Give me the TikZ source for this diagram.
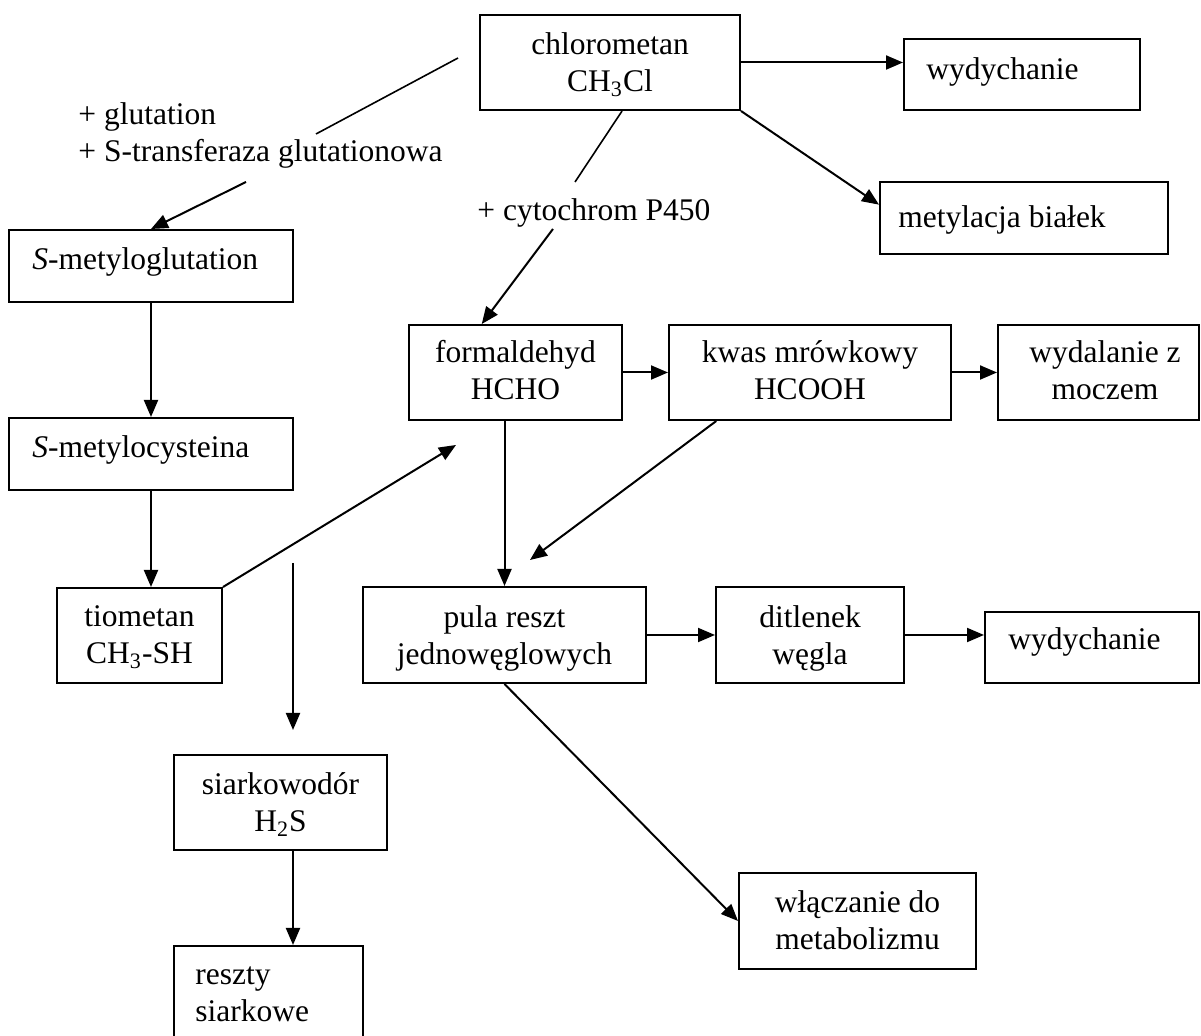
\documentclass[tikz,border=0pt]{standalone}
\usepackage{fontspec}
\setmainfont{Liberation Serif}
\usetikzlibrary{arrows.meta,calc}
\newcommand{\ltab}[1]{\begin{tabular}[t]{@{}l@{}}#1\end{tabular}}
\newcommand{\ctab}[1]{\begin{tabular}[t]{@{}c@{}}#1\end{tabular}}
\begin{document}
\begin{tikzpicture}[x=0.5pt,y=-0.5pt,
  box/.style={draw, line width=1pt, inner sep=0pt},
  txt/.style={inner sep=0pt, font=\fontsize{15.75pt}{18.5pt}\selectfont},
  arr/.style={line width=1pt, -{Triangle[length=8.5pt,width=7pt]}},
  thinl/.style={line width=0.8pt}]
\useasboundingbox (0,0) rectangle (1201,1036);
\clip (0,0) rectangle (1201,1036);
% boxes
\node[box, minimum width=130pt, minimum height=47.5pt] (chl) at (610,62.5) {};
\node[box, minimum width=118pt, minimum height=35.5pt] (wyd1) at (1022,74.5) {};
\node[box, minimum width=144pt, minimum height=36pt] (met) at (1024,218) {};
\node[box, minimum width=142pt, minimum height=36pt] (smg) at (151,266) {};
\node[box, minimum width=142pt, minimum height=36pt] (smc) at (151,454) {};
\node[box, minimum width=106.5pt, minimum height=47.5pt] (form) at (515.5,372.5) {};
\node[box, minimum width=141pt, minimum height=47.5pt] (kwas) at (810,372.5) {};
\node[box, minimum width=100.5pt, minimum height=47.5pt] (wyda) at (1098.5,372.5) {};
\node[box, minimum width=82.5pt, minimum height=47.5pt] (tio) at (139.5,635.5) {};
\node[box, minimum width=141.5pt, minimum height=48pt] (pula) at (504.5,635) {};
\node[box, minimum width=94pt, minimum height=48pt] (dit) at (810,635) {};
\node[box, minimum width=107pt, minimum height=35.5pt] (wyd2) at (1092,647.5) {};
\node[box, minimum width=106.5pt, minimum height=47.5pt] (sia) at (280.5,802.5) {};
\node[box, minimum width=94.5pt, minimum height=57pt] (res) at (268.5,1003) {};
\node[box, minimum width=118.5pt, minimum height=48pt] (wl) at (857.5,921) {};
% texts
\node[txt, anchor=base] (chl-t) at (610,55) {\ctab{chlorometan\\CH\textsubscript{3}Cl}};
\node[txt, anchor=base west] (wyd1-t) at (926,80) {wydychanie};
\node[txt, anchor=base west] (met-t) at (898,228) {metylacja białek};
\node[txt, anchor=base west] (glut) at (78,125) {\ltab{+ glutation\\+ S-transferaza glutationowa}};
\node[txt, anchor=base west] (cyt) at (477,221) {+ cytochrom P450};
\node[txt, anchor=base west] (smg-t) at (32,270) {\textit{S}-metyloglutation};
\node[txt, anchor=base west] (smc-t) at (32,458) {\textit{S}-metylocysteina};
\node[txt, anchor=base] (form-t) at (515.5,363) {\ctab{formaldehyd\\HCHO}};
\node[txt, anchor=base] (kwas-t) at (810,363) {\ctab{kwas mrówkowy\\HCOOH}};
\node[txt, anchor=base] (wyda-t) at (1105,363) {\ctab{wydalanie z\\moczem}};
\node[txt, anchor=base] (tio-t) at (139.5,627) {\ctab{tiometan\\CH\textsubscript{3}-SH}};
\node[txt, anchor=base] (pula-t) at (504.5,628) {\ctab{pula reszt\\jednowęglowych}};
\node[txt, anchor=base] (dit-t) at (810,628) {\ctab{ditlenek\\węgla}};
\node[txt, anchor=base west] (wyd2-t) at (1008,650) {wydychanie};
\node[txt, anchor=base] (sia-t) at (280.5,795) {\ctab{siarkowodór\\H\textsubscript{2}S}};
\node[txt, anchor=base west] (res-t) at (195,985) {\ltab{reszty\\siarkowe}};
\node[txt, anchor=base] (wl-t) at (857.5,913) {\ctab{włączanie do\\metabolizmu}};
% free connector ends
\coordinate (gA) at (458,58);
\coordinate (gB) at (316,134);
\coordinate (gC) at (246,182);
\coordinate (cA) at (575,182);
\coordinate (cB) at (553,229);
\coordinate (tA) at (456,445);
\coordinate (vA) at (293,563);
\coordinate (vB) at (293,730);
\coordinate (kA) at (530,560);
% connectors
\draw[arr] (chl.east) -- (chl.east -| wyd1.west);
\draw[arr] (chl.south east) -- ($(met.north west)!0.32!(met.south west)$);
\draw[thinl] (gA) -- (gB);
\draw[arr] (gC) -- (smg.north);
\draw[thinl] ($(chl.south west)!0.546!(chl.south east)$) -- (cA);
\draw[arr] (cB) -- ($(form.north west)!0.343!(form.north east)$);
\draw[arr] (smg.south) -- (smc.north);
\draw[arr] (smc.south) -- (smc.south |- tio.north);
\draw[arr] (tio.north east) -- (tA);
\draw[arr] (vA) -- (vB);
\draw[arr] (sia.south -| vA) -- (res.north -| vA);
\draw[arr] (pula.north |- form.south) -- (pula.north);
\draw[arr] (form.east) -- (kwas.west);
\draw[arr] (kwas.east) -- (wyda.west);
\draw[arr] ($(kwas.south west)!0.17!(kwas.south east)$) -- (kA);
\draw[arr] (pula.east) -- (dit.west);
\draw[arr] (dit.east) -- (dit.east -| wyd2.west);
\draw[arr] (pula.south) -- (wl.west);
\end{tikzpicture}
\end{document}
